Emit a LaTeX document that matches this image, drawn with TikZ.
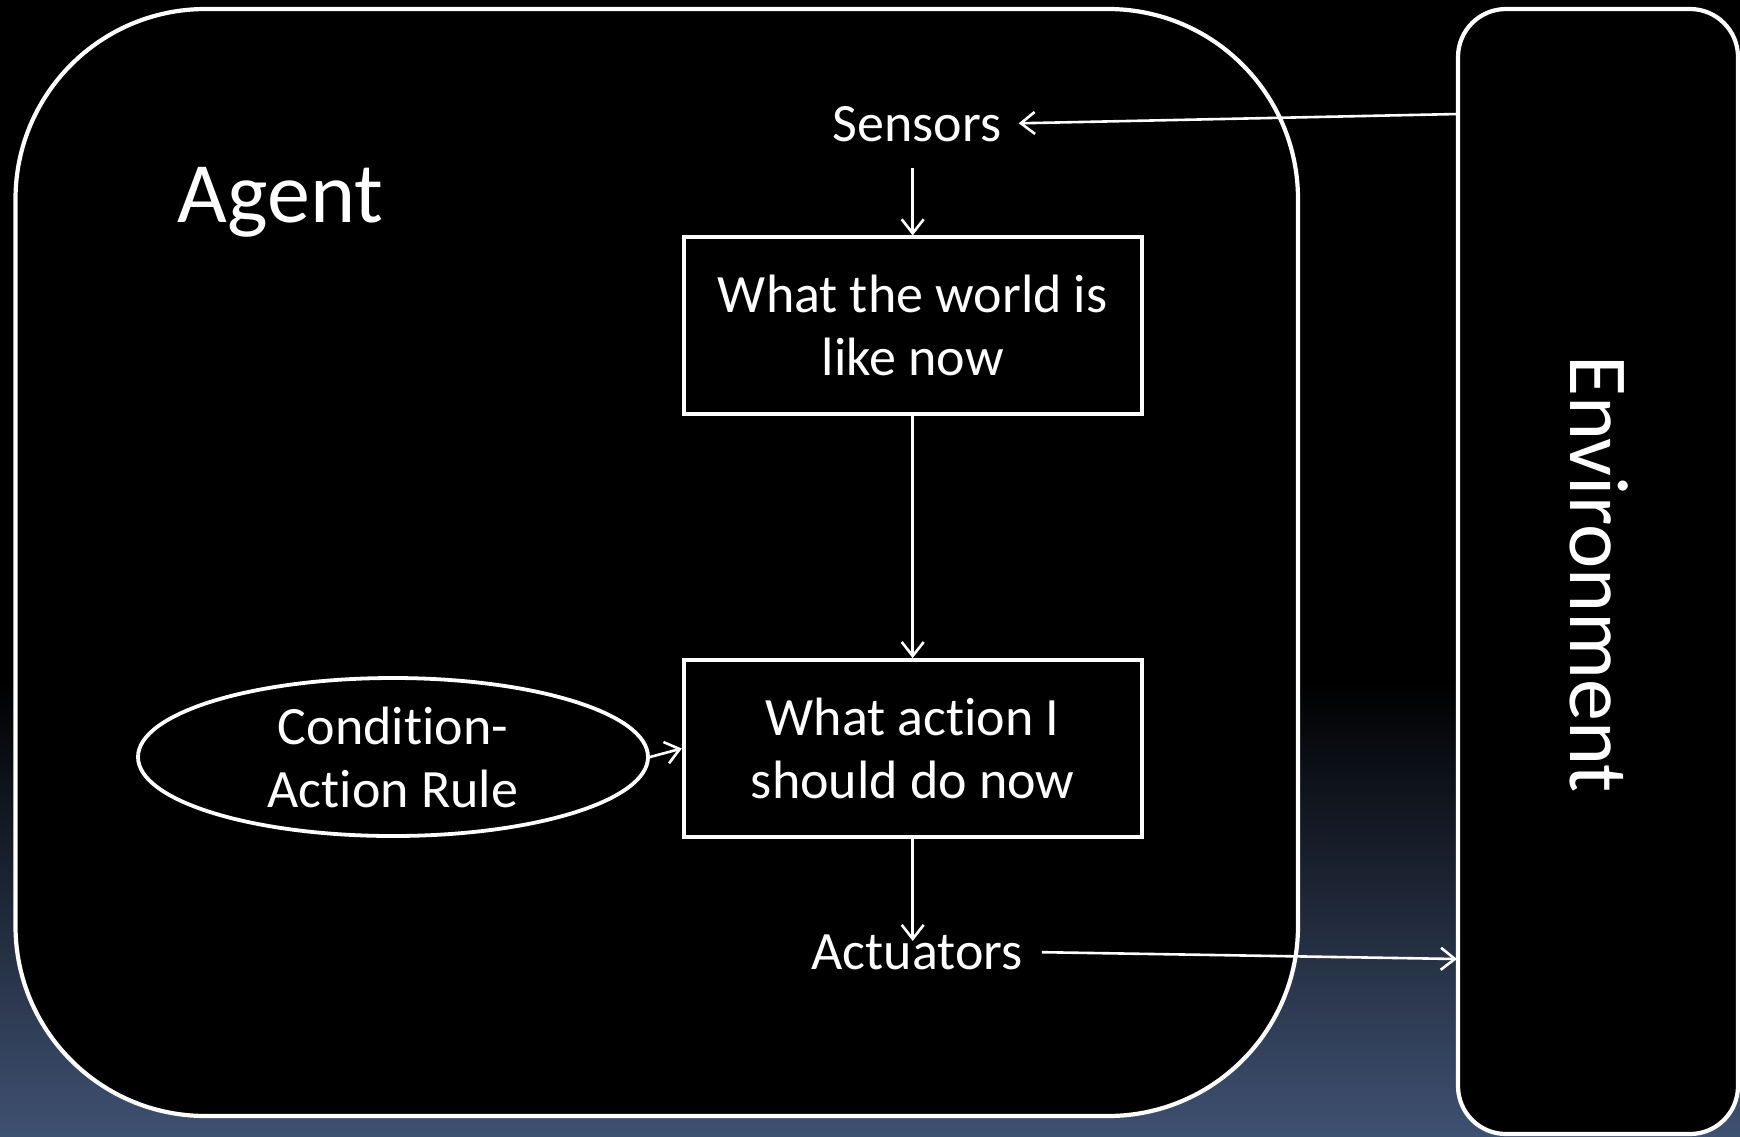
\documentclass[tikz,border=0pt]{standalone}
\usepackage{fontspec}
\setmainfont{Carlito}[Ligatures=NoCommon]
\usetikzlibrary{arrows.meta,shapes.geometric}
\definecolor{slate}{RGB}{63,81,114}
\begin{document}
\begin{tikzpicture}[x=0.5pt,y=-0.5pt,
  outline/.style={draw=white,line width=2.1pt,fill=black,inner sep=0pt},
  boxnode/.style={draw=white,line width=1.9pt,fill=black,minimum width=229pt,
    minimum height=88.5pt,inner sep=0pt,align=center,text=white,
    font=\fontsize{27}{31.5}\selectfont},
  lbl/.style={text=white,inner sep=0pt,font=\fontsize{27}{31.5}\selectfont},
  arr/.style={draw=white,line width=1.3pt,-{Straight Barb[length=7pt,width=11pt]}}
]
\useasboundingbox (0,0) rectangle (1740,1136);
% backdrop: black fading into slate blue at the bottom
\fill[black] (0,0) rectangle (1740,680);
\shade[top color=black,bottom color=slate] (0,680) rectangle (1740,1136);

% agent and environment frames
\node[outline,rounded corners=95pt,minimum width=641.25pt,minimum height=553.5pt]
  (agent) at (656.75,562.5) {};
\node[outline,rounded corners=24pt,minimum width=140pt,minimum height=562.5pt]
  (env) at (1598,571.5) {};

\node[text=white,inner sep=0pt,anchor=base west,font=\fontsize{43}{50}\selectfont]
  (agentlbl) at (177.5,222) {Agent};
\node[text=white,inner sep=0pt,anchor=base,rotate=-90,font=\fontsize{42}{50}\selectfont]
  (envlbl) at (1570,574) {Environment};

% inner blocks
\node[lbl,anchor=base] (sens) at (917,141) {Sensors};
\node[boxnode] (b1) at (912.7,325.8) {What the world is\\like now};
\node[boxnode] (b2) at (912.7,748.5) {What action I\\should do now};
\node[draw=white,line width=1.9pt,fill=black,ellipse,minimum width=255pt,
  minimum height=79pt,inner sep=0pt,align=center,text=white,
  font=\fontsize{27}{31.5}\selectfont] (rule) at (393,757) {Condition-\\Action Rule};
\node[lbl,anchor=base] (act) at (917,969) {Actuators};

% ends of the links on the environment frame
\coordinate (envIn) at (1458,114);
\coordinate (envOut) at (1457,959);

% links
\draw[arr,shorten >=8.5pt] (envIn) -- (sens.east);
\draw[arr,shorten <=13pt] (b1.north |- sens.south) -- (b1.north);
\draw[arr] (b1.south) -- (b2.north);
\draw[arr] (rule.east) -- (b2.west);
\draw[arr,shorten >=-3.5pt] (b2.south) -- (b2.south |- act.north);
\draw[arr,shorten <=9.5pt] (act.east) -- (envOut);
\end{tikzpicture}
\end{document}
